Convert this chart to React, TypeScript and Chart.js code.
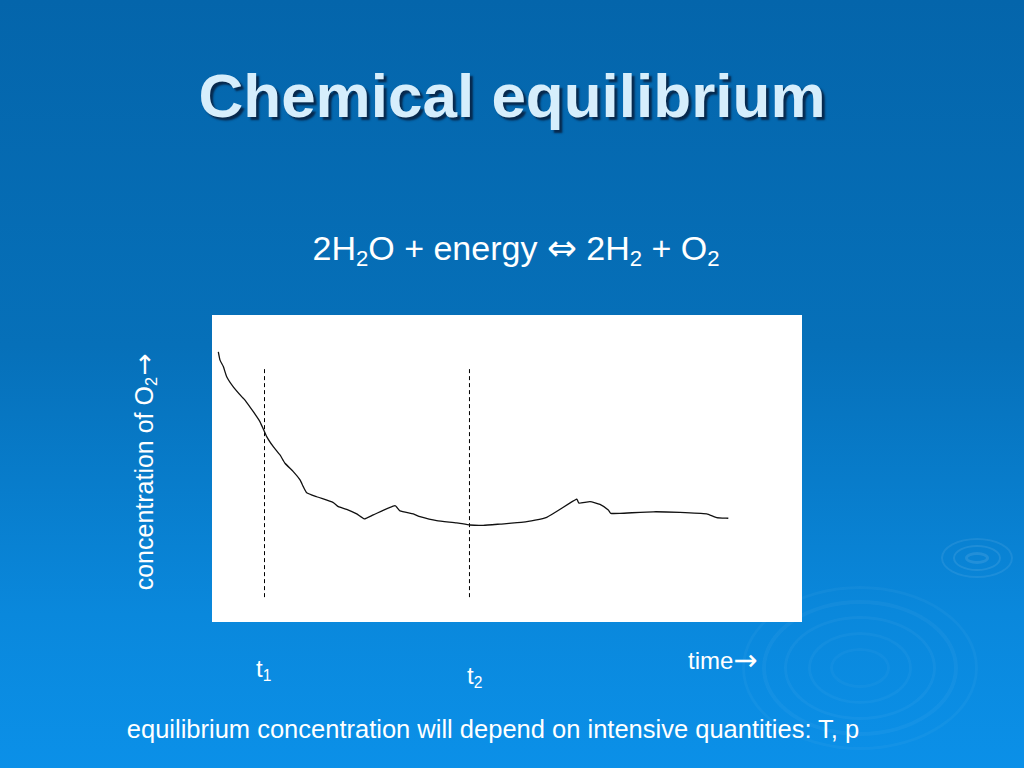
import React, { useEffect, useRef } from "react";
import { Chart, registerables } from "chart.js";

Chart.register(...registerables);

// Curve of O2 concentration over time (arbitrary units, 0..100)
const curveTime = [
  1.07, 1.36, 1.92, 2.49, 3.61, 5.03, 5.59, 7.0, 8.14, 9.27, 10.39, 11.53, 12.37,
  13.78, 14.92, 15.47, 16.05, 17.75, 20.56, 21.41, 22.83, 24.53, 25.81, 27.34,
  31.02, 31.86, 34.12, 35.25, 38.08, 41.47, 43.73, 45.98, 48.81, 52.76, 56.73,
  61.81, 62.2, 64.07, 65.76, 67.17, 67.58, 69.15, 74.8, 79.32, 83.85, 85.54, 87.51,
];
const curveConc = [
  88.0, 85.3, 83.2, 79.9, 76.6, 73.4, 72.3, 68.5, 65.2, 60.4, 57.1, 54.4, 51.7,
  49.0, 46.3, 44.1, 42.1, 40.8, 38.9, 37.6, 36.7, 35.2, 33.6, 34.9,
  37.9, 36.2, 35.2, 34.3, 33.0, 32.3, 31.6, 31.5, 31.9, 32.5, 34.1,
  40.0, 38.7, 39.2, 38.3, 36.5, 35.4, 35.4, 35.9, 35.7, 35.2, 34.0, 33.8,
];
// Times of the dashed markers t1, t2 and their vertical extent
const markerTimes = [8.9, 43.64];
const markerSpan = [8.1, 83.1];
const axisMin = 0;
const axisMax = 100;

const FONT = "'Liberation Sans', Arial, Helvetica, sans-serif";
const ARROW_FONT = "'DejaVu Sans', sans-serif";

function ChartBox() {
  const ref = useRef<HTMLCanvasElement | null>(null);
  useEffect(() => {
    if (!ref.current) return;
    const curve = curveTime.map((t, i) => ({ x: t, y: curveConc[i] }));
    const markers = markerTimes.map((t) => ({
      data: markerSpan.map((c) => ({ x: t, y: c })),
      showLine: true,
      borderColor: "#000000",
      borderWidth: 1,
      borderDash: [4, 3],
      pointRadius: 0,
    }));
    const chart = new Chart(ref.current, {
      type: "scatter",
      data: {
        datasets: [
          {
            data: curve,
            showLine: true,
            borderColor: "#111111",
            borderWidth: 1.3,
            pointRadius: 0,
            tension: 0.15,
          },
          ...markers,
        ],
      },
      options: {
        responsive: false,
        animation: false,
        layout: { padding: 0 },
        plugins: { legend: { display: false }, tooltip: { enabled: false } },
        scales: {
          x: { type: "linear", min: axisMin, max: axisMax, display: false },
          y: { type: "linear", min: axisMin, max: axisMax, display: false },
        },
      },
    });
    return () => chart.destroy();
  }, []);
  return (
    <canvas
      ref={ref}
      width={590}
      height={307}
      style={{ position: "absolute", left: 212, top: 315, width: 590, height: 307, background: "#ffffff" }}
    />
  );
}

const ring = (cx: number, cy: number, rx: number, ry: number, w: number, a: number) => (
  <div
    style={{
      position: "absolute",
      left: cx - rx,
      top: cy - ry,
      width: rx * 2,
      height: ry * 2,
      borderRadius: "50%",
      border: `${w}px solid rgba(255,255,255,${a})`,
      boxSizing: "border-box",
    }}
  />
);

export default function App() {
  const sub: React.CSSProperties = { fontSize: "0.65em", verticalAlign: "-0.25em" };
  const arrow: React.CSSProperties = { fontFamily: ARROW_FONT, fontSize: "1.05em", marginLeft: "0.05em" };
  return (
    <div
      style={{
        position: "absolute",
        left: 0,
        top: 0,
        width: 1024,
        height: 768,
        overflow: "hidden",
        background: "linear-gradient(180deg, #0465ab 0%, #0670b9 45%, #0a88dc 80%, #0b90e8 100%)",
        fontFamily: FONT,
        color: "#ffffff",
      }}
    >
      {ring(860, 668, 118, 82, 3, 0.035)}
      {ring(860, 668, 98, 68, 4, 0.04)}
      {ring(860, 668, 76, 52, 3, 0.04)}
      {ring(860, 668, 52, 36, 3, 0.035)}
      {ring(860, 668, 30, 20, 3, 0.03)}
      {ring(977, 558, 36, 20, 2, 0.08)}
      {ring(977, 558, 24, 13, 2, 0.09)}
      {ring(977, 558, 12, 6, 3, 0.1)}

      <div
        style={{
          position: "absolute",
          left: 0,
          width: 1024,
          top: 65,
          textAlign: "center",
          fontSize: 62,
          lineHeight: 1,
          fontWeight: "bold",
          color: "#d6eefc",
          textShadow: "3px 3px 2px #07294d",
        }}
      >
        Chemical equilibrium
      </div>

      <div
        style={{
          position: "absolute",
          left: 4,
          width: 1024,
          top: 230,
          textAlign: "center",
          fontSize: 34,
          lineHeight: 1,
          whiteSpace: "nowrap",
        }}
      >
        2H<span style={sub}>2</span>O + energy <span style={{ fontFamily: ARROW_FONT, fontSize: "1.05em" }}>⇔</span> 2H
        <span style={sub}>2</span> + O<span style={sub}>2</span>
      </div>

      <div
        style={{
          position: "absolute",
          left: 144 - 150,
          top: 472 - 13,
          width: 300,
          height: 26,
          textAlign: "center",
          fontSize: 25,
          lineHeight: 1,
          whiteSpace: "nowrap",
          transform: "rotate(-90deg)",
        }}
      >
        concentration of O<span style={sub}>2</span>
        <span style={arrow}>→</span>
      </div>

      <ChartBox />

      <div style={{ position: "absolute", left: 256, top: 657, fontSize: 24, lineHeight: 1 }}>
        t<span style={sub}>1</span>
      </div>
      <div style={{ position: "absolute", left: 467, top: 664, fontSize: 24, lineHeight: 1 }}>
        t<span style={sub}>2</span>
      </div>
      <div style={{ position: "absolute", left: 688, top: 646, fontSize: 24, lineHeight: 1, whiteSpace: "nowrap" }}>
        time<span style={{ fontFamily: ARROW_FONT, fontSize: "1.2em", verticalAlign: "-0.05em" }}>→</span>
      </div>

      <div
        style={{
          position: "absolute",
          left: 0,
          width: 1024,
          top: 717,
          textAlign: "center",
          fontSize: 25.5,
          lineHeight: 1,
          whiteSpace: "nowrap",
        }}
      >
        <span style={{ position: "relative", left: -19 }}>
          equilibrium concentration will depend on intensive quantities: T, p
        </span>
      </div>
    </div>
  );
}
